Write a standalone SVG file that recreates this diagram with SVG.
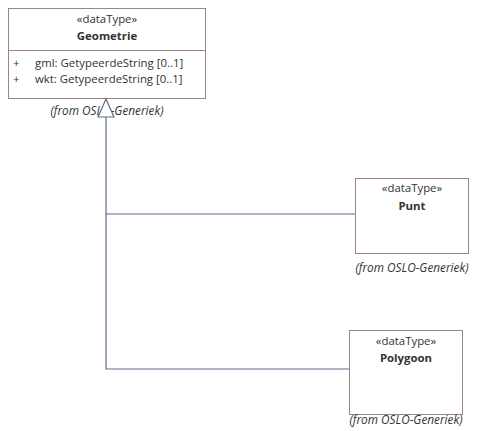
<svg xmlns="http://www.w3.org/2000/svg" width="481" height="431" viewBox="0 0 481 431">
<style>
.box{fill:#fff;stroke:#9e8585;stroke-width:1}
.t{font-family:"Open Sans","Liberation Sans",sans-serif;font-size:11.4px;fill:#333}
.b{font-weight:bold}
.i{font-style:italic;font-size:11.8px}
.c{text-anchor:middle}
.ln{fill:none;stroke:#5f6d8c;stroke-width:1.2}
</style>
<rect width="481" height="431" fill="#fff"/>
<g id="Geometrie">
<rect class="box" x="8.5" y="8.5" width="197" height="90"/>
<line x1="8.5" y1="50.5" x2="205.5" y2="50.5" stroke="#9e8585"/>
<text class="t c" x="107" y="23">«dataType»</text>
<text class="t b c" x="107" y="40">Geometrie</text>
<text class="t" x="13" y="67">+</text>
<text class="t" x="35" y="67">gml: GetypeerdeString [0..1]</text>
<text class="t" x="13" y="83">+</text>
<text class="t" x="35" y="83">wkt: GetypeerdeString [0..1]</text>
<text class="t i c" x="107" y="115">(from OSLO-Generiek)</text>
</g>
<g id="Punt">
<rect class="box" x="355.5" y="178.5" width="113" height="75"/>
<text class="t c" x="412" y="192">«dataType»</text>
<text class="t b c" x="412" y="210">Punt</text>
<text class="t i c" x="412" y="272">(from OSLO-Generiek)</text>
</g>
<g id="Polygoon">
<rect class="box" x="349.5" y="330.5" width="113" height="84"/>
<text class="t c" x="406" y="345">«dataType»</text>
<text class="t b c" x="406" y="362">Polygoon</text>
<text class="t i c" x="406" y="423.5">(from OSLO-Generiek)</text>
</g>
<g id="connectors">
<polyline class="ln" points="355,214 106,214"/>
<polyline class="ln" points="349,369 106,369 106,117"/>
<polygon points="106,99 98,117 114,117" fill="#fff" stroke="#5f6d8c" stroke-width="1.2"/>
</g>
</svg>
